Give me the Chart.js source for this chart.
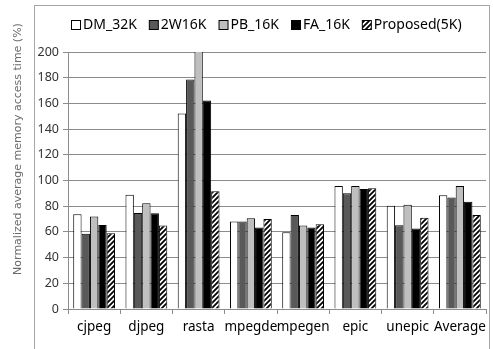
<!DOCTYPE html>
<html>
<head>
<meta charset="utf-8">
<script src="https://cdn.jsdelivr.net/npm/chart.js@4"></script>
<style>
html,body{margin:0;padding:0;background:#fff;}
#wrap{width:493px;height:349px;position:relative;}
</style>
</head>
<body>
<div id="wrap"><canvas id="c" width="493" height="349"></canvas></div>
<script>
const categories = ["cjpeg","djpeg","rasta","mpegde","mpegen","epic","unepic","Average"];
const seriesNames = ["DM_32K","2W16K","PB_16K","FA_16K","Proposed(5K)"];
const dm32k    = [73.8, 89.0, 152.2, 68.0, 59.8, 95.7, 80.4, 88.5];
const w2_16k   = [58.5, 74.8, 178.6, 68.0, 73.2, 90.0, 65.2, 86.7];
const pb16k    = [71.9, 82.3, 215.0, 70.6, 64.9, 95.7, 81.2, 95.7];
const fa16k    = [65.4, 74.5, 162.3, 63.4, 63.4, 93.4, 62.6, 83.5];
const proposed = [59.0, 64.9, 91.6, 70.1, 66.0, 94.0, 71.1, 73.2];
const yTicksMax = 200;
const yTitle = "Normalized average memory access time (%)";

function hatch(){
  const s = 5;
  const p = document.createElement('canvas');
  p.width = s; p.height = s;
  const g = p.getContext('2d');
  g.fillStyle = '#fff'; g.fillRect(0,0,s,s);
  g.strokeStyle = '#000'; g.lineWidth = 1.8;
  g.beginPath();
  g.moveTo(0,s); g.lineTo(s,0);
  g.moveTo(-1,1); g.lineTo(1,-1);
  g.moveTo(s-1,s+1); g.lineTo(s+1,s-1);
  g.stroke();
  return g.createPattern(p,'repeat');
}
const hatchFill = hatch();
const fills = ['#ffffff','#595959','#bfbfbf','#000000',hatchFill];
const values = [dm32k,w2_16k,pb16k,fa16k,proposed];

const datasets = seriesNames.map((n,i)=>({
  label:n, data:values[i], backgroundColor:fills[i],
  borderColor:'#000', borderWidth:1, borderSkipped:'start',
  categoryPercentage:0.8, barPercentage:1.0
}));

const decor = {
  id:'decor',
  beforeDraw(chart){
    const ctx = chart.ctx;
    ctx.save();
    ctx.fillStyle='#fff'; ctx.fillRect(0,0,chart.width,chart.height);
    ctx.strokeStyle='#a6a6a6'; ctx.lineWidth=1;
    ctx.strokeRect(34.5,5.5,455,345);
    ctx.restore();
  },
  afterDraw(chart){
    const ctx = chart.ctx;
    ctx.save();
    ctx.translate(18, 149);
    ctx.rotate(-Math.PI/2);
    ctx.fillStyle='#6b6b6b';
    ctx.font='11px "DejaVu Sans"';
    ctx.textAlign='center'; ctx.textBaseline='middle';
    ctx.fillText(yTitle,0,0);
    ctx.restore();
    ctx.save();
    ctx.font='14px "Noto Sans"';
    ctx.textBaseline='middle';
    let x = 71; const y = 25;
    chart.data.datasets.forEach((d,i)=>{
      ctx.fillStyle = d.backgroundColor;
      ctx.fillRect(x+0.5,y-4.5,9,9);
      ctx.strokeStyle='#000'; ctx.lineWidth=1;
      ctx.strokeRect(x+0.5,y-4.5,9,9);
      ctx.fillStyle='#000';
      ctx.fillText(d.label, x+12, y);
      x += 12 + ctx.measureText(d.label).width + 12;
    });
    ctx.restore();
  }
};

new Chart(document.getElementById('c'), {
  type:'bar',
  data:{labels:categories, datasets},
  options:{
    responsive:false, animation:false, devicePixelRatio:1,
    layout:{padding:{top:52,left:0,right:7,bottom:0}},
    plugins:{legend:{display:false}, tooltip:{enabled:false}},
    scales:{
      x:{
        offset:true,
        grid:{offset:true, drawOnChartArea:false, color:'#8c8c8c', tickLength:5},
        border:{color:'#8c8c8c'},
        ticks:{color:'#000', font:{family:'Noto Sans', size:13.5}, padding:5, maxRotation:0, autoSkip:false},
        afterFit(s){ s.height = 40; }
      },
      y:{
        min:0, max:yTicksMax,
        grid:{color:'#8c8c8c', tickLength:5},
        border:{color:'#8c8c8c'},
        ticks:{stepSize:20, color:'#333', font:{family:'Noto Sans', size:12.5}, padding:4},
        afterFit(s){ s.width = 68; }
      }
    }
  },
  plugins:[decor]
});
</script>
</body>
</html>
